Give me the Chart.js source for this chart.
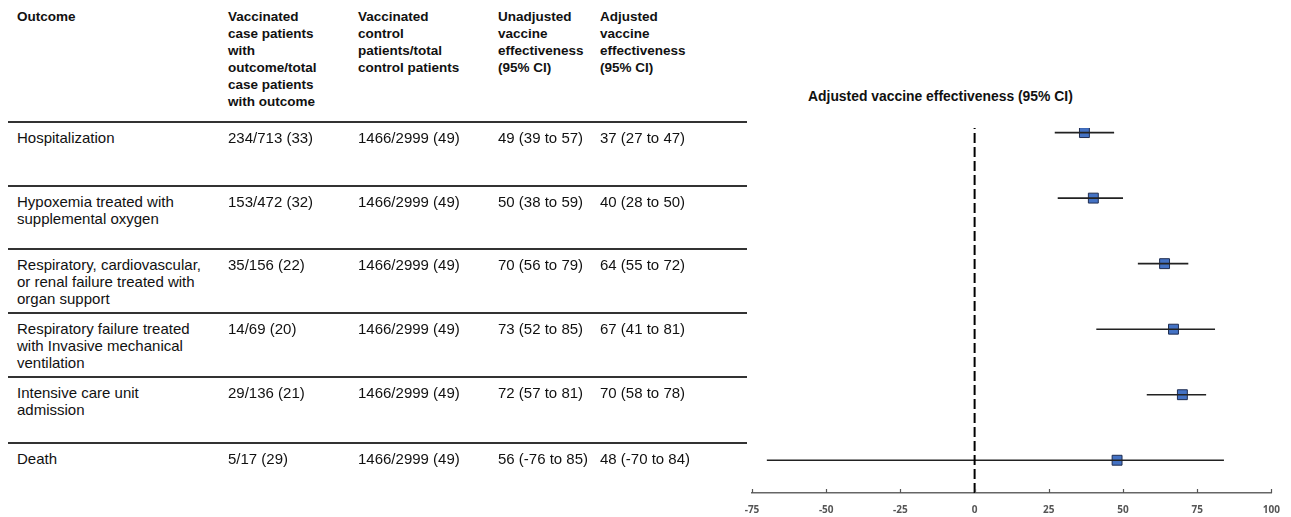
<!DOCTYPE html>
<html>
<head>
<meta charset="utf-8">
<script src="https://cdn.jsdelivr.net/npm/chart.js@4.4.1/dist/chart.umd.min.js"></script>
<style>
  html, body { margin: 0; padding: 0; background: #fff; }
  #wrap { position: relative; width: 1291px; height: 517px; overflow: hidden;
          font-family: "Liberation Sans", Arial, sans-serif; color: #111; }
  .cell { position: absolute; font-size: 15px; line-height: 17px; white-space: nowrap; }
  .head { font-weight: bold; font-size: 13.5px; }
  .rule { position: absolute; left: 8px; width: 739px; height: 2px; background: #333; }
  #title { position: absolute; top: 88px; left: 808px; font-size: 13.9px; font-weight: bold; white-space: nowrap; }
  #chartBox { position: absolute; left: 730px; top: 0; width: 561px; height: 530px; }
</style>
</head>
<body>
<div id="wrap">
  <div id="title">Adjusted vaccine effectiveness (95% CI)</div>
  <div id="chartBox"><canvas id="forest"></canvas></div>
</div>
<script>
// table columns
const headers = [
  'Outcome',
  'Vaccinated<br>case patients<br>with<br>outcome/total<br>case patients<br>with outcome',
  'Vaccinated<br>control<br>patients/total<br>control patients',
  'Unadjusted<br>vaccine<br>effectiveness<br>(95% CI)',
  'Adjusted<br>vaccine<br>effectiveness<br>(95% CI)'
];
const outcomes = [
  'Hospitalization',
  'Hypoxemia treated with<br>supplemental oxygen',
  'Respiratory, cardiovascular,<br>or renal failure treated with<br>organ support',
  'Respiratory failure treated<br>with Invasive mechanical<br>ventilation',
  'Intensive care unit<br>admission',
  'Death'
];
const caseCounts = ['234/713 (33)', '153/472 (32)', '35/156 (22)', '14/69 (20)', '29/136 (21)', '5/17 (29)'];
const controlCounts = ['1466/2999 (49)', '1466/2999 (49)', '1466/2999 (49)', '1466/2999 (49)', '1466/2999 (49)', '1466/2999 (49)'];
const unadjusted = ['49 (39 to 57)', '50 (38 to 59)', '70 (56 to 79)', '73 (52 to 85)', '72 (57 to 81)', '56 (-76 to 85)'];
const adjusted = ['37 (27 to 47)', '40 (28 to 50)', '64 (55 to 72)', '67 (41 to 81)', '70 (58 to 78)', '48 (-70 to 84)'];

// forest plot values (adjusted VE)
const veEst = [37, 40, 64, 67, 70, 48];
const veLow = [27, 28, 55, 41, 58, -70];
const veHigh = [47, 50, 72, 81, 78, 84];
const xTicks = [-75, -50, -25, 0, 25, 50, 75, 100];

// build table
const wrap = document.getElementById('wrap');
const colX = [17, 228, 358, 498, 600];
const ruleY = [121, 185, 248, 312, 376, 442];
function addCell(html, x, y, cls) {
  const d = document.createElement('div');
  d.className = 'cell' + (cls ? ' ' + cls : '');
  d.style.left = x + 'px';
  d.style.top = y + 'px';
  d.innerHTML = html;
  wrap.appendChild(d);
}
headers.forEach((h, i) => addCell(h, colX[i], 8, 'head'));
ruleY.forEach(y => {
  const r = document.createElement('div');
  r.className = 'rule';
  r.style.top = y + 'px';
  wrap.appendChild(r);
});
outcomes.forEach((o, i) => {
  const y = ruleY[i] + 8;
  addCell(o, colX[0], y);
  addCell(caseCounts[i], colX[1], y);
  addCell(controlCounts[i], colX[2], y);
  addCell(unadjusted[i], colX[3], y);
  addCell(adjusted[i], colX[4], y);
});

// forest plot: row 0 at top
const n = outcomes.length;
const rowY = i => n - i;
const ciSets = veEst.map((v, i) => ({
  type: 'line',
  data: [{ x: veLow[i], y: rowY(i) }, { x: veHigh[i], y: rowY(i) }],
  borderColor: '#222',
  borderWidth: 1.6,
  pointRadius: 0
}));

const upTicks = {
  id: 'upTicks',
  afterDraw(chart) {
    const sx = chart.scales.x;
    const ctx = chart.ctx;
    ctx.save();
    ctx.strokeStyle = '#555';
    ctx.lineWidth = 1.2;
    xTicks.forEach(t => {
      const px = Math.round(sx.getPixelForValue(t)) + 0.5;
      ctx.beginPath();
      ctx.moveTo(px, sx.top);
      ctx.lineTo(px, sx.top - 4);
      ctx.stroke();
    });
    ctx.restore();
  }
};

new Chart(document.getElementById('forest'), {
  type: 'scatter',
  data: {
    datasets: [
      {
        type: 'line',
        data: [{ x: 0, y: 0.5 }, { x: 0, y: 6.07 }],
        borderColor: '#000',
        borderWidth: 2,
        borderDash: [10, 4],
        pointRadius: 0
      },
      ...ciSets,
      {
        data: veEst.map((v, i) => ({ x: v, y: rowY(i) })),
        pointStyle: 'rect',
        pointRadius: 7,
        backgroundColor: '#4472C4',
        borderColor: '#1F2D50',
        borderWidth: 1
      }
    ]
  },
  options: {
    responsive: true,
    maintainAspectRatio: false,
    animation: false,
    layout: { padding: { left: 22, right: 13, top: 128, bottom: 3 } },
    scales: {
      x: {
        type: 'linear',
        min: -75,
        max: 100,
        afterBuildTicks: axis => { axis.ticks = xTicks.map(v => ({ value: v })); },
        grid: { display: true, drawOnChartArea: false, drawTicks: false },
        border: { display: true, color: '#666', width: 1.5 },
        ticks: {
          padding: 11,
          color: '#555',
          font: { family: 'Open Sans', size: 10, weight: 'bold' }
        }
      },
      y: { type: 'linear', min: 0.5, max: 6.07, display: false }
    },
    plugins: {
      legend: { display: false },
      tooltip: { enabled: false }
    }
  },
  plugins: [upTicks]
});
</script>
</body>
</html>
